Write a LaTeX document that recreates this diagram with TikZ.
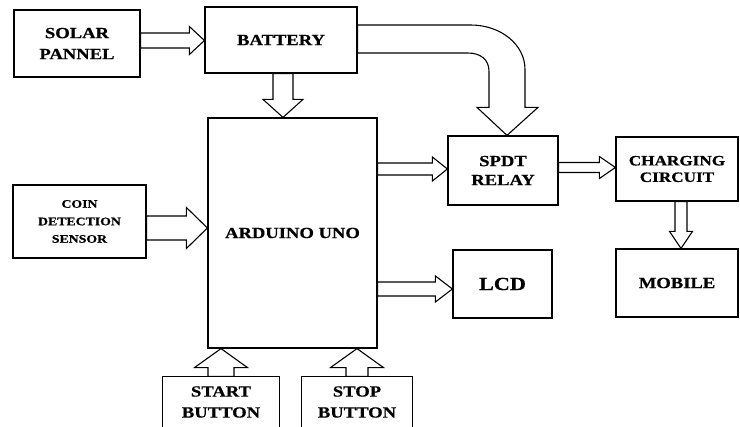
\documentclass[tikz,border=0pt]{standalone}
\usepackage{fontspec}
\setmainfont{Liberation Serif}[FakeStretch=1.2, BoldFeatures={FakeBold=0.6}]
\usetikzlibrary{calc}
\tikzset{
  box/.style={draw, line width=1.2pt, align=center, inner sep=0pt,
    font=\bfseries\fontsize{15.5}{21}\selectfont},
  blk/.style={draw, line width=1.1pt, line join=miter, fill=white}
}
% horizontal right arrow: from #1 to x of #2, shaft half #3, head half #4, head length #5
\newcommand\arrowR[5]{%
  \draw[blk] let \p1=(#1), \p2=(#2) in
    (\x1,\y1+#3) -- (\x2-#5,\y1+#3) -- (\x2-#5,\y1+#4) -- (\x2,\y1)
    -- (\x2-#5,\y1-#4) -- (\x2-#5,\y1-#3) -- (\x1,\y1-#3) -- cycle;}
% downward arrow
\newcommand\arrowD[5]{%
  \draw[blk] let \p1=(#1), \p2=(#2) in
    (\x1-#3,\y1) -- (\x1-#3,\y2+#5) -- (\x1-#4,\y2+#5) -- (\x1,\y2)
    -- (\x1+#4,\y2+#5) -- (\x1+#3,\y2+#5) -- (\x1+#3,\y1) -- cycle;}
% upward arrow
\newcommand\arrowU[5]{%
  \draw[blk] let \p1=(#1), \p2=(#2) in
    (\x1-#3,\y1) -- (\x1-#3,\y2-#5) -- (\x1-#4,\y2-#5) -- (\x1,\y2)
    -- (\x1+#4,\y2-#5) -- (\x1+#3,\y2-#5) -- (\x1+#3,\y1) -- cycle;}
\begin{document}
\begin{tikzpicture}[x=1pt,y=-1pt]
\fill[white] (0,0) rectangle (740,427);
\useasboundingbox (0,0) rectangle (740,427);

\node[box, minimum width=126pt, minimum height=67pt] (solar) at (77,43.5) {SOLAR\\PANNEL};
\node[box, minimum width=152pt, minimum height=66pt] (battery) at (281,40) {BATTERY};
\node[box, minimum width=169pt, minimum height=230pt] (arduino) at (292.5,233) {ARDUINO UNO};
\node[box, minimum width=133pt, minimum height=73pt,
      font=\bfseries\fontsize{11.5}{17.5}\selectfont] (coin) at (79.5,221.5) {COIN\\DETECTION\\SENSOR};
\node[box, minimum width=110pt, minimum height=69pt,
      font=\bfseries\fontsize{15.5}{19}\selectfont] (spdt) at (503,170.5) {SPDT\\RELAY};
\node[box, minimum width=122pt, minimum height=64pt,
      font=\bfseries\fontsize{14.3}{16.5}\selectfont] (charging) at (677,169) {CHARGING\\CIRCUIT};
\node[box, minimum width=122pt, minimum height=68pt] (mobile) at (677,283) {MOBILE};
\node[box, minimum width=99pt, minimum height=68pt,
      font=\bfseries\fontsize{18.5}{22}\selectfont] (lcd) at (502.5,284) {LCD};
\node[box, draw=none, minimum width=116pt, minimum height=50pt] (start) at (221,402) {START\\BUTTON};
\node[box, draw=none, minimum width=110pt, minimum height=50pt] (stop) at (357,402) {STOP\\BUTTON};
\draw[line width=1.2pt] (start.south west) -- (start.north west) -- (start.north east) -- (start.south east);
\draw[line width=1.2pt] (stop.south west) -- (stop.north west) -- (stop.north east) -- (stop.south east);

% straight block arrows
\arrowR{$(solar.east)+(0,-3)$}{battery.west}{7.5pt}{14pt}{15pt}
\arrowD{$(battery.south)+(2,0)$}{arduino.north}{10pt}{20pt}{18pt}
\arrowR{$(coin.east)+(0,6.5)$}{arduino.west}{12pt}{20.5pt}{21pt}
\arrowR{$(arduino.east)+(0,-64)$}{spdt.west}{6pt}{12pt}{15pt}
\arrowR{$(spdt.east)+(0,-3)$}{charging.west}{5pt}{11pt}{16pt}
\arrowD{$(charging.south)+(4,0)$}{mobile.north}{6pt}{11.5pt}{17pt}
\arrowR{$(arduino.east)+(0,56)$}{lcd.west}{7pt}{13pt}{17pt}
\arrowU{start.north}{arduino.south}{13pt}{26.5pt}{19pt}
\arrowU{stop.north}{arduino.south}{11pt}{26.5pt}{19pt}

% curved block arrow battery -> relay
\draw[blk] ($(battery.east)+(0,-15)$) -- ($(battery.east)+(113,-15)$)
  .. controls ($(battery.east)+(143,-15)$) and ($(spdt.north)+(22,-91)$) .. ($(spdt.north)+(22,-66)$)
  -- ($(spdt.north)+(22,-28)$) -- ($(spdt.north)+(35,-28)$) -- ($(spdt.north)+(4,0)$)
  -- ($(spdt.north)+(-26,-28)$) -- ($(spdt.north)+(-14,-28)$) -- ($(spdt.north)+(-14,-64)$)
  .. controls ($(spdt.north)+(-14,-76)$) and ($(battery.east)+(123,13)$) .. ($(battery.east)+(110,13)$)
  -- ($(battery.east)+(0,13)$) -- cycle;
\end{tikzpicture}
\end{document}
